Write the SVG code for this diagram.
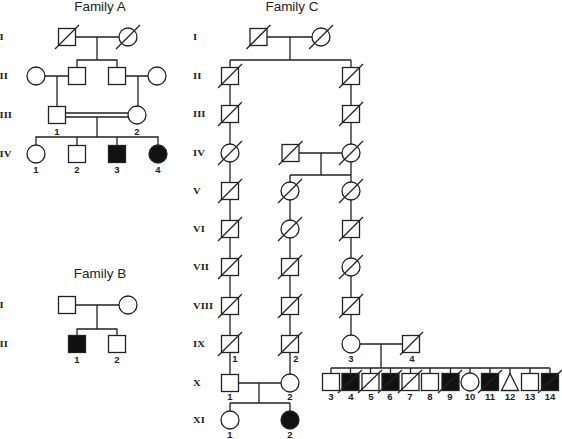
<svg xmlns="http://www.w3.org/2000/svg" width="562" height="439" viewBox="0 0 562 439">
<style>
.ln{stroke:#222;stroke-width:1.3;fill:none}
.nd{stroke:#222;stroke-width:1.3;fill:#fff}
.af{stroke:#222;stroke-width:1.3;fill:#111}
.sl{stroke:#222;stroke-width:1.3}
.gen{font-family:"Liberation Serif",serif;font-weight:bold;font-size:8.5px;fill:#222}
.num{font-family:"Liberation Sans",Arial,sans-serif;font-weight:bold;font-size:9.5px;fill:#222;text-anchor:middle}
.ttl{font-family:"Liberation Sans",Arial,sans-serif;font-size:12.5px;fill:#222;text-anchor:middle}
</style>
<rect width="562" height="439" fill="#fff"/>
<!-- titles -->
<text class="ttl" transform="translate(100,10.5) scale(1.08,1)">Family A</text>
<text class="ttl" transform="translate(100,278) scale(1.08,1)">Family B</text>
<text class="ttl" transform="translate(292,10.5) scale(1.08,1)">Family C</text>
<!-- generation numerals -->
<g id="gen-A" transform="translate(-0.5,0) scale(1.25,1)">
<text class="gen" x="0" y="39.8">I</text>
<text class="gen" x="0" y="78.8">II</text>
<text class="gen" x="0" y="117.8">III</text>
<text class="gen" x="0" y="156.8">IV</text>
</g>
<g id="gen-B" transform="translate(-0.5,0) scale(1.25,1)">
<text class="gen" x="0" y="307.8">I</text>
<text class="gen" x="0" y="346.8">II</text>
</g>
<g id="gen-C" transform="translate(193,0) scale(1.25,1)">
<text class="gen" x="0" y="39.8">I</text>
<text class="gen" x="0" y="78.8">II</text>
<text class="gen" x="0" y="116.8">III</text>
<text class="gen" x="0" y="155.8">IV</text>
<text class="gen" x="0" y="193.8">V</text>
<text class="gen" x="0" y="231.8">VI</text>
<text class="gen" x="0" y="269.8">VII</text>
<text class="gen" x="0" y="308.8">VIII</text>
<text class="gen" x="0" y="346.8">IX</text>
<text class="gen" x="0" y="385.8">X</text>
<text class="gen" x="0" y="422.8">XI</text>
</g>
<!-- connectors -->
<g id="connectors" class="ln">
<!-- Family A -->
<path d="M75,37H119M97,37V60M77,67V60H117V67"/>
<path d="M45,76H68M57,76V107M126,76H148M138,76V107"/>
<path d="M66,113H128M66,117H128M97,117V137M36,146V137H158V146M77,137V146M117,137V146"/>
<!-- Family B -->
<path d="M75,305H119M97,305V329M77,336V329H117V336"/>
<!-- Family C -->
<path d="M267,37H312M290,37V60M230,60H351"/>
<path d="M230,60V375M351,60V336"/>
<path d="M299,153H342M321,153V175M290,175H351M290,175V375"/>
<path d="M360,344H402M381,344V368M331,368H550"/>
<path d="M331,368V374M350.5,368V374M370.5,368V374M390.5,368V374M410.5,368V374M430,368V374M450.5,368V374M470,368V374M490,368V374M510,368V374M530,368V374M550,368V374"/>
<path d="M238,383H281M259,383V403M230,403H290M230,403V411M290,403V411"/>
</g>
<!-- Family A nodes -->
<g id="A-I-1"><rect class="nd" x="58.5" y="28.5" width="17" height="17"/><line class="sl" x1="55" y1="49" x2="79" y2="25"/></g>
<g id="A-I-2"><circle class="nd" cx="128" cy="37" r="9"/><line class="sl" x1="116" y1="49" x2="140" y2="25"/></g>
<g id="A-II-1"><circle class="nd" cx="36" cy="76" r="9"/></g>
<g id="A-II-2"><rect class="nd" x="68.5" y="67.5" width="17" height="17"/></g>
<g id="A-II-3"><rect class="nd" x="108.5" y="67.5" width="17" height="17"/></g>
<g id="A-II-4"><circle class="nd" cx="157" cy="76" r="9"/></g>
<g id="A-III-1"><rect class="nd" x="48.5" y="106.5" width="17" height="17"/><text class="num" x="57" y="135">1</text></g>
<g id="A-III-2"><circle class="nd" cx="137" cy="115" r="9"/><text class="num" x="137" y="135">2</text></g>
<g id="A-IV-1"><circle class="nd" cx="36" cy="154" r="9"/><text class="num" x="36" y="173">1</text></g>
<g id="A-IV-2"><rect class="nd" x="68.5" y="145.5" width="17" height="17"/><text class="num" x="77" y="173">2</text></g>
<g id="A-IV-3"><rect class="af" x="108.5" y="145.5" width="17" height="17"/><text class="num" x="117" y="173">3</text></g>
<g id="A-IV-4"><circle class="af" cx="158" cy="154" r="9"/><text class="num" x="158" y="173">4</text></g>
<!-- Family B nodes -->
<g id="B-I-1"><rect class="nd" x="58.5" y="296.5" width="17" height="17"/></g>
<g id="B-I-2"><circle class="nd" cx="128" cy="305" r="9"/></g>
<g id="B-II-1"><rect class="af" x="68.5" y="335.5" width="17" height="17"/><text class="num" x="77" y="363">1</text></g>
<g id="B-II-2"><rect class="nd" x="108.5" y="335.5" width="17" height="17"/><text class="num" x="117" y="363">2</text></g>
<!-- Family C nodes -->
<g id="C-I-1"><rect class="nd" x="250" y="28.5" width="17" height="17"/><line class="sl" x1="246.5" y1="49" x2="270.5" y2="25"/></g>
<g id="C-I-2"><circle class="nd" cx="321" cy="37" r="9"/><line class="sl" x1="309" y1="49" x2="333" y2="25"/></g>
<g id="C-II-L"><rect class="nd" x="221.5" y="67.5" width="17" height="17"/><line class="sl" x1="218" y1="88" x2="242" y2="64"/></g>
<g id="C-II-R"><rect class="nd" x="342.5" y="67.5" width="17" height="17"/><line class="sl" x1="339" y1="88" x2="363" y2="64"/></g>
<g id="C-III-L"><rect class="nd" x="221.5" y="105.5" width="17" height="17"/><line class="sl" x1="218" y1="126" x2="242" y2="102"/></g>
<g id="C-III-R"><rect class="nd" x="342.5" y="105.5" width="17" height="17"/><line class="sl" x1="339" y1="126" x2="363" y2="102"/></g>
<g id="C-IV-L"><circle class="nd" cx="230" cy="153" r="9"/><line class="sl" x1="218" y1="165" x2="242" y2="141"/></g>
<g id="C-IV-M"><rect class="nd" x="282" y="144.5" width="17" height="17"/><line class="sl" x1="278.5" y1="165" x2="302.5" y2="141"/></g>
<g id="C-IV-R"><circle class="nd" cx="351" cy="153" r="9"/><line class="sl" x1="339" y1="165" x2="363" y2="141"/></g>
<g id="C-V-L"><rect class="nd" x="221.5" y="182.5" width="17" height="17"/><line class="sl" x1="218" y1="203" x2="242" y2="179"/></g>
<g id="C-V-M"><circle class="nd" cx="290" cy="191" r="9"/><line class="sl" x1="278" y1="203" x2="302" y2="179"/></g>
<g id="C-V-R"><circle class="nd" cx="351" cy="191" r="9"/><line class="sl" x1="339" y1="203" x2="363" y2="179"/></g>
<g id="C-VI-L"><rect class="nd" x="221.5" y="220.5" width="17" height="17"/><line class="sl" x1="218" y1="241" x2="242" y2="217"/></g>
<g id="C-VI-M"><circle class="nd" cx="290" cy="229" r="9"/><line class="sl" x1="278" y1="241" x2="302" y2="217"/></g>
<g id="C-VI-R"><rect class="nd" x="342.5" y="220.5" width="17" height="17"/><line class="sl" x1="339" y1="241" x2="363" y2="217"/></g>
<g id="C-VII-L"><rect class="nd" x="221.5" y="258.5" width="17" height="17"/><line class="sl" x1="218" y1="279" x2="242" y2="255"/></g>
<g id="C-VII-M"><rect class="nd" x="281.5" y="258.5" width="17" height="17"/><line class="sl" x1="278" y1="279" x2="302" y2="255"/></g>
<g id="C-VII-R"><circle class="nd" cx="351" cy="267" r="9"/><line class="sl" x1="339" y1="279" x2="363" y2="255"/></g>
<g id="C-VIII-L"><rect class="nd" x="221.5" y="297.5" width="17" height="17"/><line class="sl" x1="218" y1="318" x2="242" y2="294"/></g>
<g id="C-VIII-M"><rect class="nd" x="281.5" y="297.5" width="17" height="17"/><line class="sl" x1="278" y1="318" x2="302" y2="294"/></g>
<g id="C-VIII-R"><rect class="nd" x="342.5" y="297.5" width="17" height="17"/><line class="sl" x1="339" y1="318" x2="363" y2="294"/></g>
<g id="C-IX-1"><rect class="nd" x="221.5" y="335.5" width="17" height="17"/><line class="sl" x1="218" y1="356" x2="242" y2="332"/><text class="num" x="235" y="362">1</text></g>
<g id="C-IX-2"><rect class="nd" x="281.5" y="335.5" width="17" height="17"/><line class="sl" x1="278" y1="356" x2="302" y2="332"/><text class="num" x="296" y="362">2</text></g>
<g id="C-IX-3"><circle class="nd" cx="351" cy="344" r="9"/><text class="num" x="351" y="362">3</text></g>
<g id="C-IX-4"><rect class="nd" x="402.5" y="335.5" width="17" height="17"/><line class="sl" x1="400" y1="355" x2="423" y2="332"/><text class="num" x="412" y="362">4</text></g>
<g id="C-X-1"><rect class="nd" x="221.5" y="374.5" width="17" height="17"/><text class="num" x="230" y="400">1</text></g>
<g id="C-X-2"><circle class="nd" cx="290" cy="383" r="9"/><text class="num" x="290" y="400">2</text></g>
<g id="C-XI-1"><circle class="nd" cx="230" cy="420" r="9"/><text class="num" x="230" y="438">1</text></g>
<g id="C-XI-2"><circle class="af" cx="290" cy="420" r="9"/><text class="num" x="290" y="438">2</text></g>
<g id="C-X-3"><rect class="nd" x="322.5" y="373.5" width="17" height="17"/><text class="num" x="331" y="400">3</text></g>
<g id="C-X-4"><rect class="af" x="342" y="373.5" width="17" height="17"/><line class="sl" x1="338" y1="393" x2="362" y2="370"/><text class="num" x="351" y="400">4</text></g>
<g id="C-X-5"><rect class="nd" x="362" y="373.5" width="17" height="17"/><line class="sl" x1="358" y1="393" x2="382" y2="370"/><text class="num" x="371" y="400">5</text></g>
<g id="C-X-6"><rect class="af" x="382" y="373.5" width="17" height="17"/><line class="sl" x1="378" y1="393" x2="402" y2="370"/><text class="num" x="390" y="400">6</text></g>
<g id="C-X-7"><rect class="nd" x="402" y="373.5" width="17" height="17"/><line class="sl" x1="398" y1="393" x2="422" y2="370"/><text class="num" x="410" y="400">7</text></g>
<g id="C-X-8"><rect class="nd" x="421.5" y="373.5" width="17" height="17"/><text class="num" x="430" y="400">8</text></g>
<g id="C-X-9"><rect class="af" x="442" y="373.5" width="17" height="17"/><line class="sl" x1="438" y1="393" x2="462" y2="370"/><text class="num" x="450" y="400">9</text></g>
<g id="C-X-10"><circle class="nd" cx="470" cy="382" r="9"/><text class="num" x="470" y="400">10</text></g>
<g id="C-X-11"><rect class="af" x="481.5" y="373.5" width="17" height="17"/><line class="sl" x1="478" y1="393" x2="502" y2="370"/><text class="num" x="490" y="400">11</text></g>
<g id="C-X-12"><polygon class="nd" points="510,373.5 501.5,390.5 518.5,390.5"/><text class="num" x="510" y="400">12</text></g>
<g id="C-X-13"><rect class="nd" x="521.5" y="373.5" width="17" height="17"/><text class="num" x="530" y="400">13</text></g>
<g id="C-X-14"><rect class="af" x="541.5" y="373.5" width="17" height="17"/><line class="sl" x1="538" y1="393" x2="562" y2="370"/><text class="num" x="550" y="400">14</text></g>
</svg>
